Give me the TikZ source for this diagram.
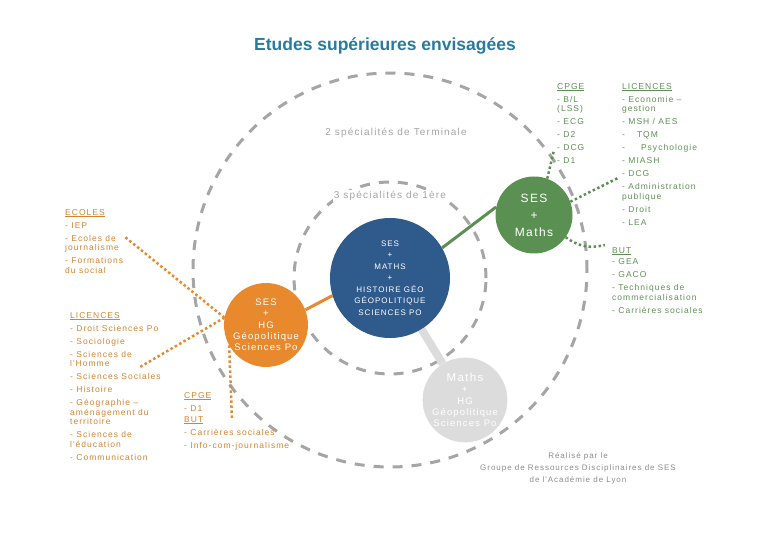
\documentclass[tikz,border=0pt]{standalone}
\usepackage{fontspec}
\setmainfont{Liberation Sans}
\newfontfamily\spacedfont{Liberation Sans}[LetterSpace=12]
\usetikzlibrary{backgrounds}

\definecolor{titleblue}{HTML}{2A7AA0}
\definecolor{specblue}{HTML}{2F5A8C}
\definecolor{specgreen}{HTML}{5A9152}
\definecolor{specorange}{HTML}{E8892E}
\definecolor{specgrey}{HTML}{DCDCDC}
\definecolor{ringgrey}{HTML}{A5A5A5}
\definecolor{txtgreen}{HTML}{5E8F55}
\definecolor{txtorange}{HTML}{D4832F}

\begin{document}
\begin{tikzpicture}[
    x=1pt, y=-1pt,
    every node/.style={font=\spacedfont\fontsize{8.5pt}{9.5pt}\selectfont},
    ring/.style={draw=ringgrey, line width=3pt, dash pattern=on 10pt off 9pt},
    spec/.style={circle, inner sep=0pt, align=center, text=white},
    link/.style={line width=3pt},
    dots/.style={line width=2.5pt, dash pattern=on 2.5pt off 2.5pt},
    list_g/.style={anchor=north west, align=left, inner sep=0pt, text=txtgreen},
    list_o/.style={anchor=north west, align=left, inner sep=0pt, text=txtorange},
    caption/.style={text=ringgrey, fill=white, inner sep=1pt, font=\spacedfont\fontsize{10pt}{12pt}\selectfont}
]
\useasboundingbox (0,0) rectangle (780,540);

\node[font=\normalfont\bfseries\fontsize{17.5pt}{20pt}\selectfont, text=titleblue] (title) at (385,46) {Etudes supérieures envisagées};

% les specialites
\node[spec, fill=specblue, minimum size=120pt, font=\spacedfont\fontsize{8pt}{11.5pt}\selectfont] (blue_c) at (390,278)
    {SES\\+\\MATHS\\+\\HISTOIRE GÉO\\GÉOPOLITIQUE\\SCIENCES PO};
\node[spec, fill=specgreen, minimum size=77pt, font=\spacedfont\fontsize{12pt}{17pt}\selectfont] (green_c) at (534,215)
    {SES\\+\\Maths};
\node[spec, fill=specorange, minimum size=80pt, font=\spacedfont\fontsize{9.5pt}{11.3pt}\selectfont] (orange_c) at (266,325)
    {SES\\+\\HG\\Géopolitique\\Sciences Po};
\node[spec, fill=specgrey, minimum size=76pt, font=\spacedfont\fontsize{9.5pt}{11.3pt}\selectfont] (grey_c) at (465,400)
    {{\fontsize{11.5pt}{11.3pt}\selectfont Maths}\\+\\HG\\Géopolitique\\Sciences Po};

\node[caption] (cap_term) at (396,133) {2 spécialités de Terminale};
\node[caption] (cap_prem) at (390,196) {3 spécialités de 1ère};

\begin{pgfonlayer}{background}
\draw[ring] (390,270) circle[radius=197pt];
\draw[ring] (390,278) circle[radius=96pt];
\draw[link, specgreen] (blue_c.30) -- (green_c.168);
\draw[link, specorange] (blue_c.197) -- (orange_c.21);
\draw[line width=8pt, specgrey] (blue_c) -- (grey_c);
\end{pgfonlayer}

% debouches SES + Maths
\node[list_g] (g_cpge) at (557,83)
    {\underline{CPGE}\\[3.5pt]- B/L\\(LSS)\\[3.5pt]- ECG\\[3.5pt]- D2\\[3.5pt]- DCG\\[3.5pt]- D1};
\node[list_g] (g_lic) at (622,83)
    {\underline{LICENCES}\\[3.5pt]- Economie \textendash\\gestion\\[3.5pt]- MSH / AES\\[3.5pt]-\hspace{12pt}TQM\\[3.5pt]-\hspace{16pt}Psychologie\\[3.5pt]- MIASH\\[3.5pt]- DCG\\[3.5pt]- Administration\\publique\\[3.5pt]- Droit\\[3.5pt]- LEA};
\node[list_g] (g_but) at (612,247)
    {\underline{BUT}\\[2pt]- GEA\\[3.5pt]- GACO\\[3.5pt]- Techniques de\\commercialisation\\[3.5pt]- Carrières sociales};

% debouches SES + HG
\node[list_o] (o_ecoles) at (65,209)
    {\underline{ECOLES}\\[3.5pt]- IEP\\[3.5pt]- Ecoles de\\journalisme\\[3.5pt]- Formations\\du social};
\node[list_o] (o_lic) at (70,312)
    {\underline{LICENCES}\\[3.5pt]- Droit Sciences Po\\[3.5pt]- Sociologie\\[3.5pt]- Sciences de\\l'Homme\\[3.5pt]- Sciences Sociales\\[3.5pt]- Histoire\\[3.5pt]- Géographie \textendash\\aménagement du\\territoire\\[3.5pt]- Sciences de\\l'éducation\\[3.5pt]- Communication};
\node[list_o] (o_cpge) at (184,392)
    {\underline{CPGE}\\[3.5pt]- D1\\[1.5pt]\underline{BUT}\\[3.5pt]- Carrières sociales\\[3.5pt]- Info-com-journalisme};

\coordinate (g_cpge_end) at (554,150);
\coordinate (g_lic_end) at (618,178);
\coordinate (g_but_end) at (605,245);
\coordinate (o_ecoles_end) at (125,237);
\coordinate (o_lic_end) at (140,367);
\coordinate (o_cpge_end) at (232,420);

\draw[dots, specgreen] (green_c.70) -- (g_cpge_end);
\draw[dots, specgreen] (green_c.20) -- (g_lic_end);
\draw[dots, specgreen] (green_c.-35) to[bend right=25] (g_but_end);
\draw[dots, specorange] (orange_c.170) -- (o_ecoles_end);
\draw[dots, specorange] (orange_c.170) -- (o_lic_end);
\draw[dots, specorange] (orange_c.209) -- (o_cpge_end);

\node[align=center, text=ringgrey!85!black, font=\spacedfont\fontsize{8pt}{12pt}\selectfont] (credits) at (578,468)
    {Réalisé par le\\Groupe de Ressources Disciplinaires de SES\\de l'Académie de Lyon};

\end{tikzpicture}
\end{document}
